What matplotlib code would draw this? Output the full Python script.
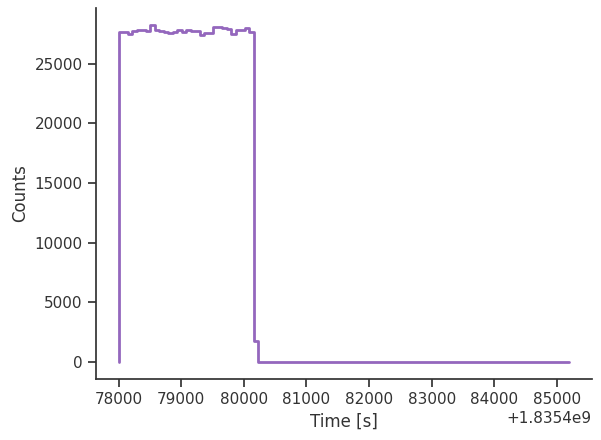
import numpy as np
import matplotlib
matplotlib.use('Agg')
import matplotlib.pyplot as plt
import seaborn as sns

# Light curve binned counts (72 s bins)
t_start = 1835478000.0
bin_width = 72.0
plateau = [27650, 27650, 27450, 27750, 27800, 27800, 27700, 28250, 27800, 27700,
           27650, 27600, 27650, 27800, 27650, 27800, 27700, 27700, 27400, 27600,
           27600, 28100, 28050, 27950, 27900, 27500, 27850, 27850, 27950, 27650]
tail = [1800]
n_zero = 69
counts = np.array(plateau + tail + [0] * n_zero, dtype=float)
edges = t_start + bin_width * np.arange(len(counts) + 1)

sns.set_theme(style='ticks')
grey = '#333333'
plt.rcParams.update({'text.color': grey, 'axes.labelcolor': grey,
                     'xtick.color': grey, 'ytick.color': grey,
                     'axes.edgecolor': grey})

fig = plt.figure(figsize=(6.01, 4.40), dpi=100)
ax = fig.add_axes([96 / 601, 61 / 440, 496 / 601, 371 / 440])

x = np.concatenate([[edges[0]], edges])
y = np.concatenate([[0], counts, [counts[-1]]])
ax.plot(x, y, drawstyle='steps-post', color='tab:purple', linewidth=2)

ax.set_xlabel('Time [s]')
ax.set_ylabel('Counts')
sns.despine(ax=ax)

fig.savefig('out.png', dpi=100)
